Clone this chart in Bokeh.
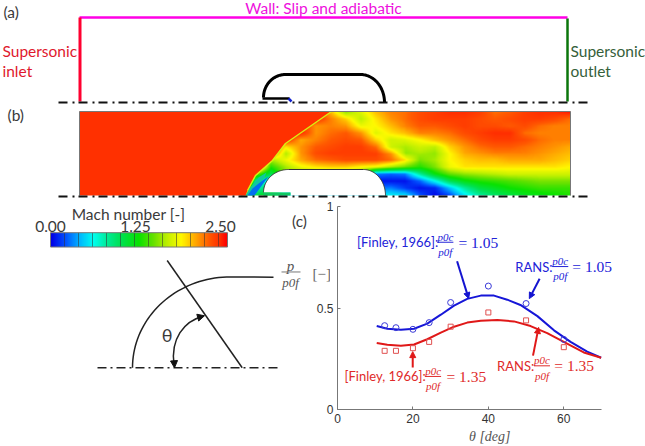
import numpy as np
from bokeh.embed import file_html
from bokeh.resources import INLINE
from bokeh.plotting import figure
from bokeh.layouts import column, row
from bokeh.models import Range1d, LinearColorMapper, Label, Arrow, NormalHead, FixedTicker
from bokeh.core.properties import value

# ---- chart (c) data ----
theta_blue = [10.4,13.2,16.8,20.3,23.8,27.4,30.9,34.4,38.0,41.5,45.0,48.5,53.0,57.4,61.8,66.2,69.9]
rans_blue  = [.411,.398,.393,.398,.423,.467,.512,.545,.561,.561,.541,.515,.460,.390,.333,.285,.255]
theta_red  = [10.4,13.2,16.8,20.3,23.8,27.4,30.9,34.4,38.0,42.4,46.8,51.2,55.6,60.0,65.3,69.9]
rans_red   = [.328,.319,.314,.320,.346,.379,.408,.428,.437,.441,.434,.411,.376,.333,.281,.255]
theta_exp  = [12.5,15.5,20,24.3,30,40,50,60]
exp_blue   = [.413,.403,.395,.428,.527,.608,.522,.345]
exp_red    = [.289,.289,.302,.333,.408,.478,.439,.307]
x_ticks = [0,20,40,60]
y_ticks = [0,0.5,1]

# ---- Mach field (rows top to bottom) ----
field_x = [240,255,270,285,300,315,330,345,360,375,390,405,420,435,450,465,480,495,510,525,540,555,570]
field_y = [111,118,125,132,139,146,153,160,167,174,181,188,195]
mach_rows = [
 [2.4,2.4,2.4,2.4,2.4,2.4,2.0,1.55,1.75,2.0,2.15,2.2,2.3,2.35,2.4,2.4,2.35,2.2,2.25,2.35,2.4,2.4,2.45],
 [2.4,2.4,2.4,2.4,2.4,2.4,2.15,1.95,1.65,1.9,2.1,2.2,2.3,2.35,2.35,2.35,2.3,2.25,2.3,2.35,2.35,2.3,2.2],
 [2.4,2.4,2.4,2.4,2.4,2.1,2.15,2.1,1.8,1.85,2.0,2.15,2.25,2.25,2.3,2.35,2.3,2.3,2.25,2.3,2.2,2.15,2.15],
 [2.4,2.4,2.4,2.4,2.4,2.1,2.2,2.25,2.1,1.75,1.9,2.0,2.15,2.15,2.2,2.3,2.35,2.4,2.4,2.2,2.15,2.15,2.15],
 [2.4,2.4,2.4,2.4,2.05,2.15,2.25,2.3,2.25,1.95,1.7,1.75,1.85,2.0,2.1,2.2,2.3,2.35,2.35,2.3,2.2,2.15,2.15],
 [2.4,2.4,2.4,1.9,2.1,2.25,2.3,2.35,2.35,2.2,1.7,1.6,1.7,1.65,1.95,2.1,2.2,2.25,2.25,2.2,2.15,2.1,2.05],
 [2.4,2.4,2.4,1.6,2.1,2.3,2.35,2.35,2.35,2.35,2.1,1.55,1.6,1.55,1.85,2.05,2.1,2.15,2.15,2.15,2.1,2.05,2.0],
 [2.4,2.4,1.6,1.8,2.05,2.2,2.25,2.3,2.3,2.3,2.2,1.9,1.5,1.6,1.85,1.95,2.0,2.0,2.05,2.05,2.05,2.0,1.95],
 [2.4,2.4,1.3,1.6,1.8,1.9,1.95,1.95,1.85,1.8,1.6,1.45,1.3,1.5,1.8,1.9,1.9,1.9,1.9,1.9,1.9,1.9,1.85],
 [2.4,1.5,1.0,1.5,1.5,1.5,1.5,1.5,1.5,0.3,0.25,0.3,0.8,1.2,1.45,1.55,1.6,1.65,1.7,1.7,1.7,1.7,1.7],
 [2.4,0.8,0.5,0.5,0.5,0.5,0.5,0.5,0.5,0.05,0.05,0.05,0.25,0.6,1.0,1.2,1.3,1.35,1.4,1.45,1.5,1.5,1.5],
 [2.4,0.7,1.0,0.5,0.5,0.5,0.5,0.5,0.5,0.25,0.3,0.15,0.05,0.1,0.45,0.8,1.05,1.15,1.25,1.3,1.35,1.35,1.35],
 [2.4,1.0,1.25,0.5,0.5,0.5,0.5,0.5,0.5,0.55,0.55,0.5,0.2,0.03,0.2,0.55,0.8,0.95,1.05,1.15,1.2,1.25,1.3],
]
mach_ticks = ["0.00","1.25","2.50"]

# ---- colour scale ----
stops_v = [0,.2,.4,.6,.8,1.0,1.25,1.45,1.65,1.85,2.05,2.25,2.4,2.5]
stops_c = [(0,0,230),(0,80,255),(0,180,255),(0,255,240),(0,235,150),(0,225,80),(10,225,0),
           (100,225,0),(190,240,0),(255,250,0),(255,170,0),(255,90,0),(255,48,0),(255,0,0)]
vv = np.linspace(0,2.5,256)
palette = ["#%02x%02x%02x" % tuple(int(np.interp(v,stops_v,[c[i] for c in stops_c])) for i in range(3)) for v in vv]
mapper = LinearColorMapper(palette=palette, low=0, high=2.5)

LATO = value("Lato")
SERIF = value("Liberation Serif")
DARK = "#3a3a3a"

def pane(w, h, y0, y1, x0=0):
    f = figure(width=w, height=h, x_range=Range1d(x0, x0+w), y_range=Range1d(y1, y0),
               output_backend="svg", toolbar_location=None, min_border=0,
               x_axis_location=None, y_axis_location=None, outline_line_color=None)
    f.grid.visible = False
    return f

def txt(f, x, y, s, color=DARK, size=15.5, align="left", font=LATO, style="normal"):
    f.text([x],[y],text=[s],text_color=color,text_font_size=f"{size}px",text_align=align,
           text_baseline="middle",text_font=font,text_font_style=style)

def arc(cx, cy, rx, ry, a0, a1, n=40):
    a = np.radians(np.linspace(a0,a1,n))
    return cx+rx*np.cos(a), cy-ry*np.sin(a)

# ---- top pane: boundary sketch and field ----
top = pane(645, 198, 0, 198)
txt(top, 3, 11, "(a)")
txt(top, 7, 114, "(b)")
txt(top, 323, 7, "Wall: Slip and adiabatic", color="#ee10dd", align="center")
txt(top, 2, 50, "Supersonic", color="#e0182d")
txt(top, 2, 70, "inlet", color="#e0182d")
txt(top, 570, 50, "Supersonic", color="#35603a")
txt(top, 570, 70, "outlet", color="#35603a")
top.line([79,567],[17,17],line_color="#ff00e6",line_width=2.5)
top.line([79.5,79.5],[17,101],line_color="#ff0030",line_width=3)
top.line([567,567],[18,101],line_color="#0b760b",line_width=2.5)
bx1,by1 = arc(285,97,22,23,180,90)
bx2,by2 = arc(360,102,24,28,90,0)
top.line(list(bx1)+list(bx2), list(by1)+list(by2), line_color="black", line_width=3)
top.line([262,289],[98,98],line_color="black",line_width=2.5)
top.line([288,291],[98,101],line_color="#1020d0",line_width=2.5)
for yy in (102,196):
    top.line([58,590],[yy,yy],line_color="#111111",line_width=2,line_dash="9 5 2 4",level="overlay")

# field: upsample table, draw through colour mapper
px = np.arange(240,571); py = np.arange(111,196)
M = np.array(mach_rows)
tmp = np.array([np.interp(px, field_x, r) for r in M])
img = np.array([np.interp(py, field_y, tmp[:,j]) for j in range(tmp.shape[1])]).T
top.image(image=[img], x=240, y=111, dw=330, dh=84, color_mapper=mapper)
top.patch([79,331,285,272,255,247,245,79],[111,111,143,160,175,190,195,195],
          fill_color="#ff3000",line_color=None)
top.line([331,285,272,255,247],[111,143,160,175,190],line_color="#d8ef10",line_width=1.5)
top.patch([245,249,258,266,264,256,252],[195,188,177,172,177,188,195],fill_color="#10c8a0",line_color=None)
top.patch([247,252,262,268,262,254],[195,188,180,176,184,195],fill_color="#0070f0",line_color=None)
wx1,wy1 = arc(288,192,25,23,180,90)
wx2,wy2 = arc(363,195,22,26,90,0)
wx = [263]+list(wx1)+list(wx2)+[290,290]
wy = [192]+list(wy1)+list(wy2)+[195,192]
top.patch(wx,wy,fill_color="white",line_color=None)
top.line(list(wx1)+list(wx2),list(wy1)+list(wy2),line_color="#333333",line_width=1)
top.line([263,290],[193.5,193.5],line_color="#10c860",line_width=3)
top.line([79,79,570],[195,111,111],line_color="#777777",line_width=1)
top.line([570,570],[111,195],line_color="#777777",line_width=1)

# ---- lower-left pane: legend and sketch ----
left = pane(330, 248, 198, 446)
txt(left, 128, 207, "Mach number [-]", align="center")
for x,s in zip((50,135,220),mach_ticks):
    txt(left, x, 222, s, align="center")
left.image(image=[np.linspace(0,2.5,177)[None,:]], x=50, y=230, dw=177, dh=17.5, color_mapper=mapper)
seps = list(range(64,227,14))
left.multi_line([[s,s] for s in seps],[[230,247.5]]*len(seps),line_color="#333333",line_alpha=.55,line_width=1)
left.line([50,227,227,50,50],[230,230,247.5,247.5,230],line_color="#777777",line_width=1)
txt(left, 291.5, 216, "(c)")
left.line([97,277],[395,395],line_color="#222222",line_width=1.5,line_dash="9 4 2 4")
ax,ay = arc(230,395,98,111,180,90)
left.line(list(ax)+[273],list(ay)+[284.3],line_color="#222222",line_width=1.5)
left.line([166.7,241.7],[264,395],line_color="#222222",line_width=1.5)
left.bezier(x0=[173.5],y0=[391],x1=[203.3],y1=[331.7],cx0=[170],cy0=[360],cx1=[183],cy1=[338],
            line_color="#222222",line_width=1.5)
h1 = NormalHead(size=7,fill_color="#111111",line_color="#111111")
h2 = NormalHead(size=7,fill_color="#111111",line_color="#111111")
left.add_layout(Arrow(end=h1,x_start=198,y_start=333.5,x_end=204,y_end=331.5,line_color="#222222",line_width=1))
left.add_layout(Arrow(end=h2,x_start=173.6,y_start=388,x_end=174,y_end=395,line_color="#222222",line_width=1))
txt(left, 166.7, 355, "θ", size=18, align="center")
txt(left, 290, 270.5, "p", color="#555555", size=15, align="center", font=SERIF, style="italic")
left.line([281,300],[278,278],line_color="#777777",line_width=1)
txt(left, 290, 290.5, "p0f", color="#555555", size=13, align="center", font=SERIF, style="italic")
txt(left, 312, 280, "[−]", color="#666666", size=15, font=SERIF)

# ---- chart (c) ----
x_end = 70*(645-337)/(601-337)
chart = figure(width=333, height=248, x_range=Range1d(0,x_end), y_range=Range1d(0,1),
               output_backend="svg", toolbar_location=None, outline_line_color=None,
               min_border_left=25, min_border_right=0, min_border_top=8, min_border_bottom=36,
               x_axis_label="θ  [deg]", border_fill_color=None, background_fill_color=None,
               margin=(0,0,0,-18))
chart.grid.visible = False
for ax_ in (chart.xaxis[0], chart.yaxis[0]):
    ax_.axis_line_color = "#777777"
    ax_.major_tick_line_color = "#777777"
    ax_.major_tick_in = 3
    ax_.major_tick_out = 0
    ax_.minor_tick_line_color = None
    ax_.major_label_text_font = "Liberation Sans"
    ax_.major_label_text_font_size = "12px"
    ax_.major_label_text_color = "#333333"
chart.xaxis[0].bounds = (0,70)
chart.xaxis[0].ticker = FixedTicker(ticks=x_ticks)
chart.yaxis[0].ticker = FixedTicker(ticks=y_ticks)
chart.yaxis[0].major_label_overrides = {0:"0",0.5:"0.5",1:"1"}
chart.yaxis[0].major_label_standoff = 4
chart.xaxis[0].major_label_standoff = 4
chart.xaxis[0].axis_label_text_font = "Liberation Serif"
chart.xaxis[0].axis_label_text_font_style = "italic"
chart.xaxis[0].axis_label_text_font_size = "14px"
chart.xaxis[0].axis_label_text_color = "#555555"
chart.xaxis[0].axis_label_standoff = 3

BLUE = "#2222d8"; RED = "#e02a2a"
chart.line(theta_blue,rans_blue,line_color="#1616d8",line_width=2)
chart.line(theta_red,rans_red,line_color="#e01818",line_width=2)
chart.scatter(theta_exp,exp_blue,marker="circle",size=6,fill_color=None,line_color="#3a3ad8",line_width=1)
chart.scatter(theta_exp,exp_red,marker="square",size=5,fill_color=None,line_color="#e05050",line_width=1)

def dx(p): return (p-337)/3.775
def dy(p): return (410-p)/204.5
def lab(x,y,s,color,size=13,align="left",font="Lato",style="normal"):
    chart.add_layout(Label(x=dx(x),y=dy(y),text=s,text_color=color,text_font_size=f"{size}px",
                           text_align=align,text_baseline="middle",text_font=font,text_font_style=style))
def note(lead,xl,yc,xf,eq,xe,color):
    lab(xl,yc,lead,color)
    lab(xf,yc-5.5,"p0c",color,11,"center","Liberation Serif","italic")
    lab(xf,yc+10,"p0f",color,11,"center","Liberation Serif","italic")
    chart.line([dx(xf-8),dx(xf+8)],[dy(yc),dy(yc)],line_color=color,line_width=1)
    lab(xe,yc,eq,color,15.5,"left","Liberation Serif")
note("[Finley, 1966]:",356.5,241.5,445,"= 1.05",458,BLUE)
note("RANS:",515,266,560,"= 1.05",572,BLUE)
note("[Finley, 1966]:",344,376.7,432.7,"= 1.35",446,RED)
note("RANS:",496.7,366,541.7,"= 1.35",554,RED)
for (x0,y0,x1,y1,c) in [(456.7,260.7,468.3,298.3,"#1414d0"),(539.3,278.3,529,298.3,"#1414d0"),
                        (412.3,367.7,412.3,351.7,"#e01818"),(532.7,355.7,538.3,327.3,"#e01818")]:
    chart.add_layout(Arrow(end=NormalHead(size=6,fill_color=c,line_color=c),
                           x_start=dx(x0),y_start=dy(y0),x_end=dx(x1),y_end=dy(y1),line_color=c,line_width=2))

page = column(top, row(left, chart, spacing=0), spacing=0)
open("out.html","w").write(file_html(page, INLINE))
